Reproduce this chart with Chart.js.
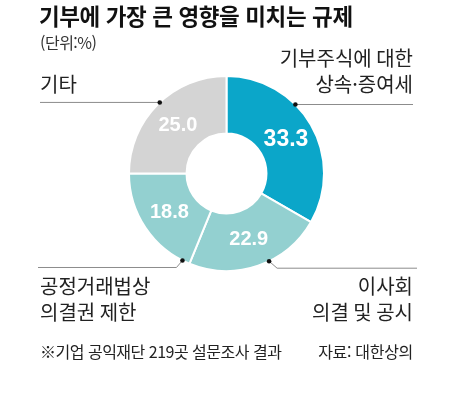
<!DOCTYPE html>
<html lang="ko">
<head>
<meta charset="utf-8">
<script src="https://cdn.jsdelivr.net/npm/chart.js@4/dist/chart.umd.min.js"></script>
<style>
  html, body { margin: 0; padding: 0; background: #fff; }
  #wrap { position: relative; width: 455px; height: 400px; overflow: hidden; }
  #wrap canvas { position: absolute; left: 0; top: 0; }
  .txt { position: absolute; font-family: "Noto Sans CJK KR", sans-serif; white-space: nowrap; color: #222; }
  #title { left: 39px; top: 1px; font-size: 22.5px; line-height: 28px; font-weight: 700; color: #111; letter-spacing: -0.4px; }
  #unit { left: 40px; top: 31px; font-size: 16px; line-height: 22px; color: #333; letter-spacing: -0.5px; }
  #note { left: 40px; top: 340px; font-size: 16px; line-height: 22px; letter-spacing: -0.5px; }
  #source { right: 42px; top: 340px; font-size: 16px; line-height: 22px; letter-spacing: -0.3px; }
</style>
</head>
<body>
<div id="wrap">
  <canvas id="donut"></canvas>
  <div class="txt" id="title">기부에 가장 큰 영향을 미치는 규제</div>
  <div class="txt" id="unit">(단위:%)</div>
  <div class="txt" id="note">※기업 공익재단 219곳 설문조사 결과</div>
  <div class="txt" id="source">자료: 대한상의</div>
</div>
<script>
// 데이터
const categories = [
    ['기부주식에 대한', '상속·증여세'],
    ['이사회', '의결 및 공시'],
    ['공정거래법상', '의결권 제한'],
    ['기타']
];
const values = [33.3, 22.9, 18.8, 25.0];
const colors = ['#0ba6c9', '#93d0d0', '#93d0d0', '#d4d4d4'];

// 지시선 / 라벨 위치 (스타일)
const leaders = [
    { at: 0.375, elbow: null,   endX: 413, labelX: 413, align: 'right', ys: [58, 84] },
    { at: 0.415, elbow: [8, 7], endX: 417, labelX: 413, align: 'right', ys: [286, 312] },
    { at: 0.067, elbow: [-6, 7], endX: 38, labelX: 40,  align: 'left',  ys: [286, 312] },
    { at: 0.52,  elbow: null,   endX: 40,  labelX: 40,  align: 'left',  ys: [84] }
];
const valueFonts = ['bold 23px "Liberation Sans", Arial, sans-serif',
    'bold 20px "Liberation Sans", Arial, sans-serif',
    'bold 20px "Liberation Sans", Arial, sans-serif',
    'bold 20px "Liberation Sans", Arial, sans-serif'];

const labelPlugin = {
    id: 'labelPlugin',
    afterDatasetsDraw(chart) {
        const ctx = chart.ctx;
        const meta = chart.getDatasetMeta(0);
        meta.data.forEach((arc, i) => {
            // 값 라벨
            const c = arc.getCenterPoint();
            ctx.save();
            ctx.fillStyle = '#fff';
            ctx.font = valueFonts[i];
            ctx.textAlign = 'center';
            ctx.textBaseline = 'middle';
            ctx.fillText(values[i].toFixed(1), c.x, c.y + 1);

            // 지시선
            const ld = leaders[i];
            const ang = arc.startAngle + (arc.endAngle - arc.startAngle) * ld.at;
            const dx = arc.x + Math.cos(ang) * arc.outerRadius;
            const dy = arc.y + Math.sin(ang) * arc.outerRadius;
            ctx.strokeStyle = '#8c8c8c';
            ctx.lineWidth = 1;
            ctx.beginPath();
            ctx.moveTo(dx, dy);
            let ly = dy;
            if (ld.elbow) {
                ctx.lineTo(dx + ld.elbow[0], dy + ld.elbow[1]);
                ly = dy + ld.elbow[1];
                ctx.lineTo(ld.endX, ly);
            } else {
                ctx.lineTo(ld.endX, ly);
            }
            ctx.stroke();
            ctx.fillStyle = '#111';
            ctx.beginPath();
            ctx.arc(dx, dy, 2.3, 0, Math.PI * 2);
            ctx.fill();

            // 항목 라벨
            ctx.fillStyle = '#222';
            ctx.font = '20px "Noto Sans CJK KR", sans-serif';
            ctx.textAlign = ld.align;
            categories[i].forEach((line, k) => {
                ctx.fillText(line, ld.labelX, ld.ys[k]);
            });
            ctx.restore();
        });
    }
};

const ctx = document.getElementById('donut').getContext('2d');
new Chart(ctx, {
    type: 'doughnut',
    data: {
        labels: categories.map(c => c.join(' ')),
        datasets: [{
            data: values,
            backgroundColor: colors,
            borderColor: '#fff',
            borderWidth: 2,
            hoverOffset: 0
        }]
    },
    options: {
        responsive: true,
        maintainAspectRatio: false,
        animation: false,
        cutout: '41%',
        layout: {
            padding: { left: 128, right: 130, top: 75, bottom: 128 }
        },
        plugins: {
            legend: { display: false },
            tooltip: { enabled: false }
        }
    },
    plugins: [labelPlugin]
});
</script>
</body>
</html>
